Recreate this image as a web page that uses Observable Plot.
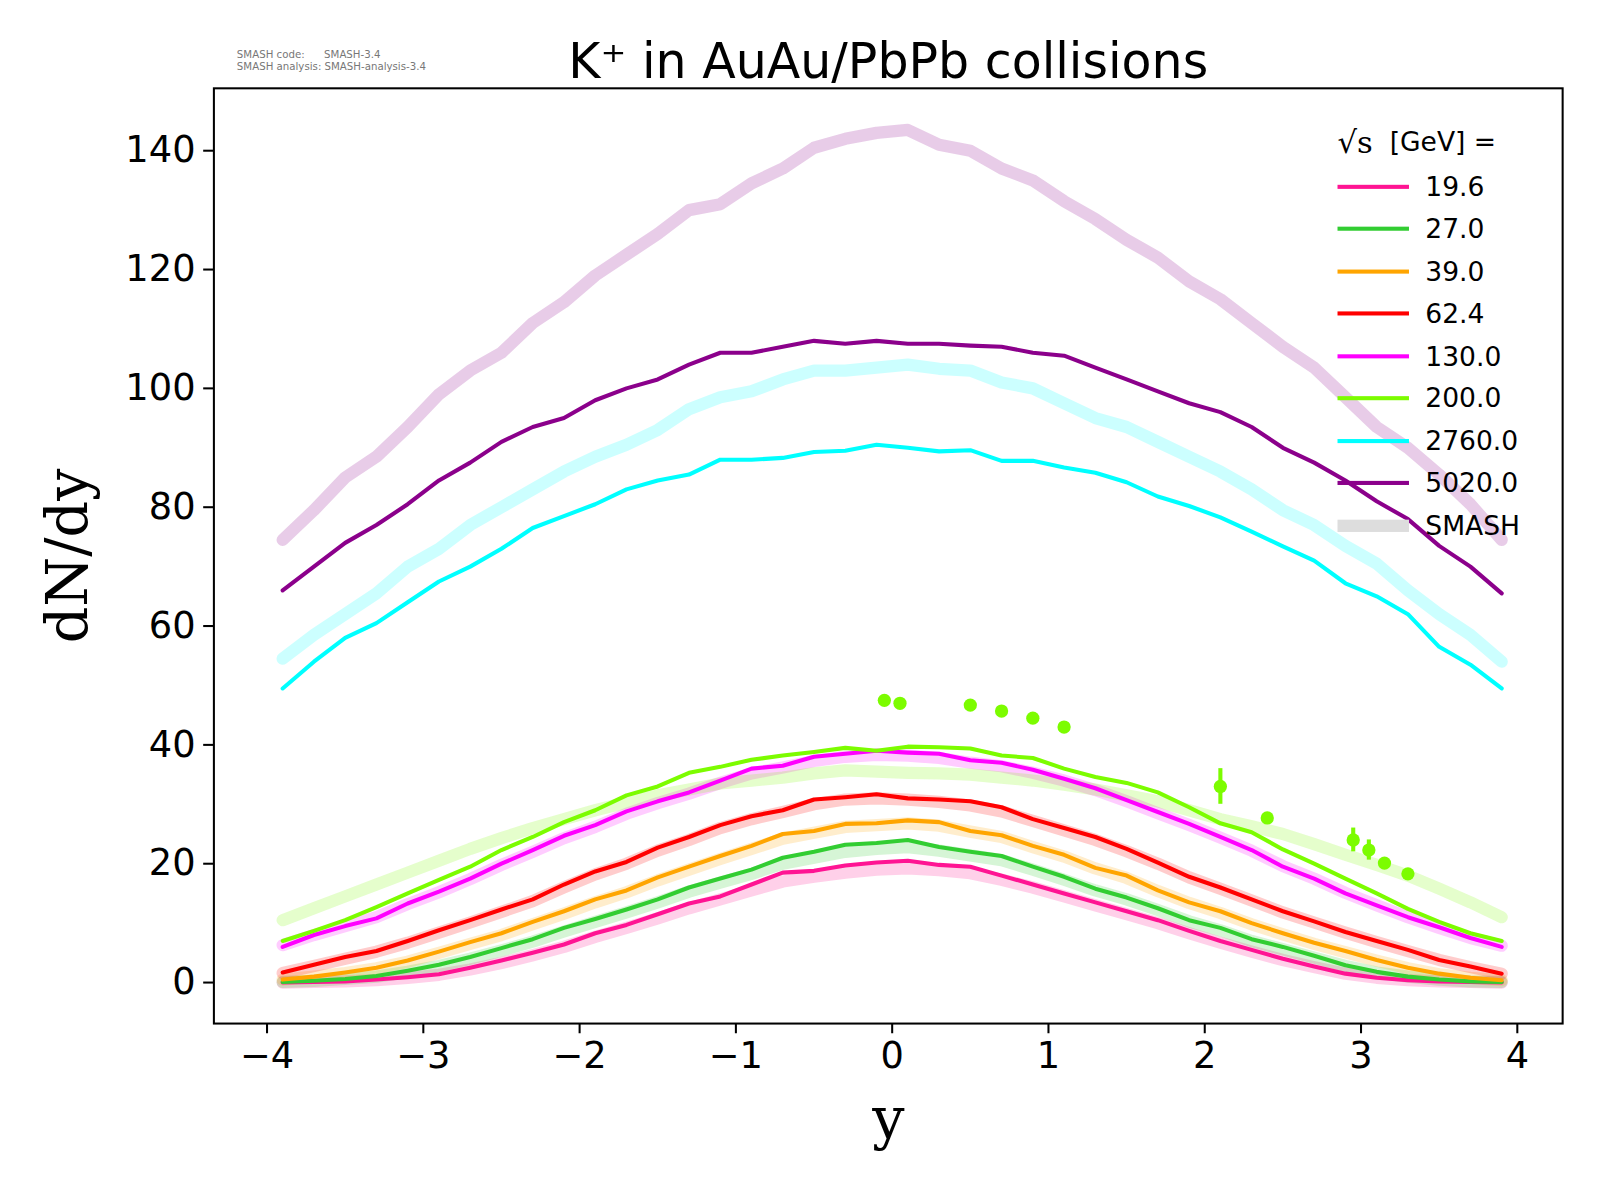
<!DOCTYPE html>
<html><head><meta charset="utf-8">
<script src="https://cdn.jsdelivr.net/npm/d3@7"></script>
<script src="https://cdn.jsdelivr.net/npm/@observablehq/plot@0.6"></script>
<style>
html,body{margin:0;background:#fff;font-family:"DejaVu Sans",sans-serif;overflow:hidden;}
#wrap{position:relative;width:1600px;height:1200px;transform:scale(1.021);transform-origin:0 0;}
#chart svg{max-width:none;}
#legend{position:absolute;left:1310px;top:116px;font-size:26px;color:#000;}
#legend .row{display:flex;align-items:center;height:41.5px;}
#legend .sw{width:70px;height:0;margin-right:16px;}
#legend .hdr{height:46px;display:flex;align-items:center;}
#meta{position:absolute;left:232px;top:48px;font-size:10px;color:#777;line-height:12px;white-space:pre;}
</style></head><body>
<div id="wrap"><div id="chart"></div><div id="meta">SMASH code:      SMASH-3.4
SMASH analysis: SMASH-analysis-3.4</div><div id="legend"></div></div>
<script>
const ys = [-3.9,-3.7,-3.5,-3.3,-3.1,-2.9,-2.7,-2.5,-2.3,-2.1,-1.9,-1.7,-1.5,-1.3,-1.1,-0.9,-0.7,-0.5,-0.3,-0.1,0.1,0.3,0.5,0.7,0.9,1.1,1.3,1.5,1.7,1.9,2.1,2.3,2.5,2.7,2.9,3.1,3.3,3.5,3.7,3.9];
const energies = ["19.6","27.0","39.0","62.4","130.0","200.0","2760.0","5020.0"];
const colors = ["#ff1493","#32cd32","#ffa500","#ff0000","#ff00ff","#7cfc00","#00ffff","#8b008b"];
const thin = {
"19.6":[0,0.1,0.2,0.5,0.9,1.4,2.5,3.7,5,6.4,8.3,9.7,11.5,13.3,14.5,16.5,18.5,18.8,19.7,20.2,20.5,19.8,19.5,18,16.5,15,13.5,12,10.5,8.7,7,5.5,4,2.7,1.5,0.8,0.4,0.2,0.1,0],
"27.0":[0.1,0.3,0.6,1.1,2,3,4.3,5.8,7.3,9.2,10.7,12.3,14,16,17.5,19,21,22,23.2,23.5,24,22.8,22,21.3,19.5,17.8,15.8,14.3,12.5,10.5,9.2,7.3,6,4.5,2.9,1.8,1,0.5,0.2,0.1],
"39.0":[0.5,1,1.7,2.5,3.7,5.2,6.8,8.3,10.2,12,14,15.5,17.7,19.5,21.3,23,25,25.5,26.7,26.8,27.3,27,25.5,24.8,23,21.5,19.3,18,15.5,13.5,12,10,8.3,6.7,5.3,3.8,2.5,1.5,0.8,0.4],
"62.4":[1.7,3,4.3,5.3,7,8.8,10.5,12.3,14,16.5,18.7,20.3,22.7,24.5,26.5,28,29,30.8,31.2,31.7,31,30.8,30.5,29.5,27.5,26,24.5,22.5,20.2,17.8,16,14,12,10.3,8.5,7,5.5,3.8,2.7,1.5],
"130.0":[6,8,9.5,10.8,13.3,15.3,17.5,20,22.3,24.7,26.5,28.8,30.5,32,34,36,36.5,38,38.5,39,38.7,38.5,37.4,37,35.8,34.3,32.7,30.7,28.7,26.7,24.5,22.3,19.5,17.5,15,13,11,9.3,7.5,6],
"200.0":[7,8.7,10.5,12.7,15,17.3,19.5,22.3,24.5,27,29,31.5,33,35.3,36.3,37.5,38.2,38.8,39.5,39,39.7,39.6,39.4,38.2,37.8,36,34.6,33.6,32,29.5,26.8,25.3,22.4,20,17.5,15,12.4,10.2,8.3,7],
"2760.0":[49.5,54,58,60.5,64,67.5,70,73,76.5,78.5,80.5,83,84.5,85.5,88,88,88.3,89.3,89.5,90.5,90,89.4,89.6,87.8,87.8,86.7,85.8,84.2,81.8,80.2,78.3,75.9,73.4,71,67.2,65,62,56.5,53.5,49.5],
"5020.0":[66,70,74,77,80.5,84.5,87.5,91,93.5,95,98,100,101.5,104,106,106,107,108,107.5,108,107.5,107.5,107.2,107,106,105.5,103.5,101.5,99.5,97.5,96,93.5,90,87.5,84.5,81,78,73.5,70,65.5]
};
const smash = {
"19.6":[0,0.1,0.2,0.4,0.8,1.3,2.2,3.3,4.6,6,7.7,9.2,10.8,12.5,14,15.5,17,17.8,18.5,19,19.2,18.9,18.4,17.3,16,14.5,13,11.5,10,8.3,6.7,5.2,3.8,2.6,1.5,0.8,0.4,0.2,0.1,0],
"27.0":[0.1,0.3,0.6,1,1.8,2.8,4,5.4,6.9,8.6,10.2,11.8,13.5,15.3,16.8,18.3,20,21,22,22.5,22.8,22.2,21.4,20.6,19,17.3,15.5,14,12.2,10.3,8.8,7,5.6,4.2,2.8,1.7,1,0.5,0.2,0.1],
"39.0":[0.5,1,1.6,2.4,3.5,5,6.5,8,9.8,11.6,13.5,15.2,17.2,19,20.8,22.5,24.2,25.2,26.2,26.5,26.8,26.4,25.4,24.5,22.8,21.2,19.2,17.6,15.4,13.4,11.7,9.8,8.1,6.5,5.1,3.7,2.4,1.4,0.8,0.4],
"62.4":[1.6,2.8,4,5.2,6.7,8.4,10.1,11.9,13.7,16,18.2,20,22.2,24,26,27.5,28.7,30,30.8,31,30.8,30.4,29.8,28.8,27.2,25.6,24,22.1,20,17.7,15.8,13.8,11.8,10.1,8.4,6.8,5.3,3.8,2.6,1.5],
"130.0":[6.3,8,9.5,11,13.2,15.2,17.4,19.8,22,24.3,26.2,28.4,30.2,31.8,33.6,35.2,36.2,37.3,38,38.3,38.2,37.8,37,36.4,35.3,34,32.4,30.5,28.5,26.5,24.4,22.2,19.6,17.5,15.1,13,11,9.2,7.5,6.2],
"200.0":[10.5,12.5,14.5,16.5,18.5,20.5,22.5,24.3,26,27.5,29,30.3,31.5,32.5,33.5,34,34.5,35.2,35.7,35.5,35.3,35.2,35,34.5,34,33.3,32.5,31.5,30.5,29,27.5,26.3,25,23.3,21.5,19.8,18,15.8,13.5,11],
"2760.0":[54.5,58.5,62,65.5,70,73,77,80,83,86,88.5,90.5,93,96.5,98.5,99.5,101.5,103,103,103.5,104,103.3,103,101,100,97.5,95,93.5,91,88.5,86,83,79.5,77,73.5,70.5,66,62,58.5,54],
"5020.0":[74.5,79.5,85,88.5,93.5,99,103,106,111,114.5,119,122.5,126,130,131,134.5,137,140.5,142,143,143.5,141,140,137,135,131.5,128.5,125,122,118,115,111,107,103.5,98.5,93.5,90,85.5,80.5,74.5]
};
const dataY = [-0.05,0.05,0.5,0.7,0.9,1.1,2.1,2.4,2.95,3.05,3.15,3.3];
const dataV = [47.5,47,46.7,45.7,44.5,43,33,27.7,24,22.3,20.1,18.3];
const dataErr = [0.6,0.6,0.6,0.6,0.6,0.6,3,0.8,2,1.7,0.8,0.8];
const yTicks = [0,20,40,60,80,100,120,140];
const xTicks = [-4,-3,-2,-1,0,1,2,3,4];

const rows = [], srows = [];
energies.forEach((e,k)=>ys.forEach((y,i)=>{
  rows.push({e, y, v: thin[e][i], c: colors[k]});
  srows.push({e, y, v: smash[e][i], c: colors[k]});
}));
const pts = dataY.map((y,i)=>({y, v:dataV[i], lo:dataV[i]-dataErr[i], hi:dataV[i]+dataErr[i]}));
const fmt = d=>d<0?"\u2212"+Math.abs(d):d;

const plot = Plot.plot({
  width:1600, height:1200,
  marginLeft:209, marginRight:70, marginTop:86, marginBottom:198,
  style:{fontFamily:"DejaVu Sans, sans-serif", fontSize:"34px", color:"#000", background:"#fff"},
  x:{domain:[-4.34,4.29], ticks:xTicks, tickFormat:fmt, label:null},
  y:{domain:[-6.9,150.5], ticks:yTicks, label:null},
  marks:[
    Plot.frame({stroke:"#000", strokeWidth:2}),
    Plot.line(srows,{x:"y",y:"v",z:"e",stroke:"c",strokeWidth:12,strokeOpacity:0.2}),
    Plot.line(rows,{x:"y",y:"v",z:"e",stroke:"c",strokeWidth:4}),
    Plot.ruleX(pts,{x:"y",y1:"lo",y2:"hi",stroke:"#7cfc00",strokeWidth:4}),
    Plot.dot(pts,{x:"y",y:"v",r:6.5,fill:"#7cfc00"}),
    Plot.axisX({ticks:xTicks, tickSize:10, tickPadding:8, fontSize:36, tickFormat:fmt, label:null, strokeWidth:2}),
    Plot.axisY({ticks:yTicks, tickSize:10, tickPadding:8, fontSize:36, label:null, strokeWidth:2}),
    Plot.text(["y"],{frameAnchor:"bottom", dy:112, fontSize:56, fontFamily:"DejaVu Serif, serif", text:d=>d}),
    Plot.text(["dN/dy"],{frameAnchor:"left", textAnchor:"middle", dx:-142, rotate:-90, fontSize:56, fontFamily:"DejaVu Serif, serif", text:d=>d}),
    Plot.text(["K\u207A in AuAu/PbPb collisions"],{frameAnchor:"top", dy:-44, fontSize:48, text:d=>d})
  ]
});
document.getElementById("chart").appendChild(plot);

const lg = document.getElementById("legend");
lg.innerHTML = '<div class="hdr"><span style="font-family:DejaVu Serif,serif;font-size:30px">\u221As</span>&nbsp; [GeV] =</div>' +
  energies.map((e,k)=>`<div class="row"><div class="sw" style="border-top:4px solid ${colors[k]}"></div>${e}</div>`).join("") +
  `<div class="row"><div class="sw" style="border-top:12px solid #ddd"></div>SMASH</div>`;
</script></body></html>
